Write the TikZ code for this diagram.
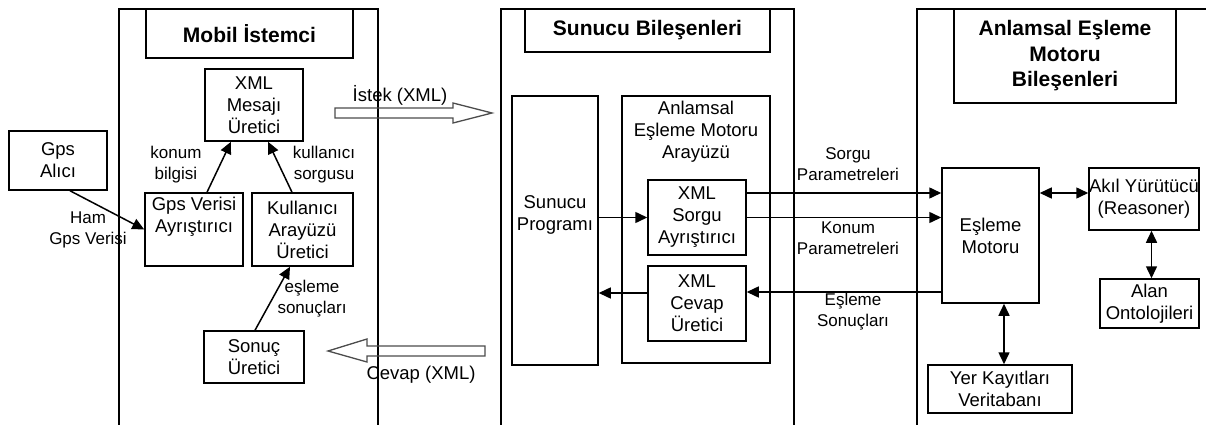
\documentclass[tikz,border=0pt]{standalone}
\usepackage{fontspec}
\setmainfont{Liberation Sans}
\usetikzlibrary{arrows.meta,calc}
\begin{document}
\begin{tikzpicture}[x=1pt,y=-1pt,
  line width=1.5pt,
  box/.style={draw, rectangle, inner sep=0pt, align=center, font=\fontsize{18.5}{22}\selectfont},
  ttl/.style={draw, rectangle, inner sep=0pt, align=center, font=\bfseries\fontsize{21}{25.5}\selectfont},
  lbl/.style={inner sep=0pt, align=center, font=\fontsize{17}{21}\selectfont},
  txt/.style={inner sep=0pt, align=center, font=\fontsize{18.5}{22}\selectfont},
  arr/.style={-{Triangle[length=12pt,width=11pt]}},
  darr/.style={{Triangle[length=12pt,width=11pt]}-{Triangle[length=12pt,width=11pt]}},
  panel/.style={draw, line width=1.5pt},
  hollow/.style={draw=black!70, line width=1.3pt, line join=miter}
]
\useasboundingbox (0,0) rectangle (1206,425);

% panels
\draw[panel] (119,425) -- (119,9) -- (378,9) -- (378,425);
\draw[panel] (501,425) -- (501,9) -- (794,9) -- (794,425);
\draw[panel] (917,425) -- (917,9) -- (1206,9);

% Mobil Istemci
\node[ttl, minimum width=207pt, minimum height=49pt] (titleM) at (249.5,33.5) {Mobil İstemci};
\node[box, minimum width=98pt, minimum height=72pt] (xmlmsg) at (254,105) {XML\\Mesajı\\Üretici};
\node[box, minimum width=98pt, minimum height=59pt] (gpsal) at (58,160.5) {Gps\\Alıcı};
\node[box, minimum width=98pt, minimum height=73pt] (gpsv) at (194,229.5) {};
\node[txt, anchor=north] (gpsvt) at ($(gpsv.north)+(0,4)$) {Gps Verisi\\Ayrıştırıcı};
\node[box, minimum width=101pt, minimum height=73pt] (kul) at (302.5,229.5) {Kullanıcı\\Arayüzü\\Üretici};
\node[box, minimum width=100pt, minimum height=52pt] (sonuc) at (254,357) {Sonuç\\Üretici};

\draw[arr] ([xshift=12pt]gpsal.south) -- (gpsv.west);
\draw[arr] ([xshift=13pt]gpsv.north) -- ([xshift=-23pt]xmlmsg.south);
\draw[arr] ([xshift=-10.5pt]kul.north) -- ([xshift=14pt]xmlmsg.south);
\draw[arr] ([xshift=1pt]sonuc.north) -- ([xshift=-12.5pt]kul.south);

\node[lbl] (lkonum) at (176,164.5) {konum\\bilgisi};
\node[lbl] (lkul) at (324,164.5) {kullanıcı\\sorgusu};
\node[lbl] (lham) at (88,229.5) {Ham\\Gps Verisi};
\node[lbl] (lesl) at (312,299) {eşleme\\sonuçları};

% hollow arrows
\draw[hollow] (335,108) -- (453,108) -- (453,103) -- (492,113) -- (453,123) -- (453,118) -- (335,118) -- cycle;
\node[txt] (listek) at (400,95) {İstek (XML)};
\draw[hollow] (485,346) -- (367,346) -- (367,339) -- (328,351) -- (367,362) -- (367,356) -- (485,356) -- cycle;
\node[txt] (lcevap) at (421,375) {Cevap (XML)};

% Sunucu
\node[ttl, minimum width=245pt, minimum height=43pt] (titleS) at (647.5,30.5) {Sunucu Bileşenleri};
\node[box, minimum width=86pt, minimum height=269pt] (sprog) at (555,230.5) {};
\node[txt] (sprogt) at (555,215) {Sunucu\\Programı};
\node[box, minimum width=148pt, minimum height=267pt] (anl) at (696,229.5) {};
\node[txt, anchor=north] (anlt) at (696,100) {Anlamsal\\Eşleme Motoru\\Arayüzü};
\node[box, minimum width=98pt, minimum height=75pt] (xsorgu) at (697,217.5) {XML\\Sorgu\\Ayrıştırıcı};
\node[box, minimum width=98pt, minimum height=75pt] (xcevap) at (697,303.5) {XML\\Cevap\\Üretici};

\coordinate (cv) at ([yshift=10.5pt]xcevap.west);
\draw[arr] (sprog.east |- xsorgu.west) -- (xsorgu.west);
\draw[arr] (cv) -- (sprog.east |- cv);

% Anlamsal
\node[ttl, minimum width=222pt, minimum height=94pt] (titleA) at (1065,56) {Anlamsal Eşleme\\Motoru\\Bileşenleri};
\node[box, minimum width=97pt, minimum height=135pt] (esl) at (990.5,235.5) {Eşleme\\Motoru};
\node[box, minimum width=110pt, minimum height=62pt] (akil) at (1144,199) {Akıl Yürütücü\\(Reasoner)};
\node[box, minimum width=99pt, minimum height=49pt] (alan) at (1149.5,303.5) {Alan\\Ontolojileri};
\node[box, minimum width=144pt, minimum height=48pt] (yer) at (1000,389) {Yer Kayıtları\\Veritabanı};

\coordinate (sq) at ([yshift=24.5pt]xsorgu.east);
\coordinate (ce) at ([yshift=11.5pt]xcevap.east);
\coordinate (ak) at ([yshift=6pt]akil.west);
\coordinate (an) at ([xshift=2pt]alan.north);
\coordinate (es) at ([xshift=13.5pt]esl.south);

\draw[arr] (sq) -- (esl.west |- sq);
\draw[arr] (xsorgu.east) -- (esl.west |- xsorgu.east);
\draw[arr] (esl.west |- ce) -- (ce);
\draw[darr] (esl.east |- ak) -- (ak);
\draw[darr] (akil.south -| an) -- (an);
\draw[darr] (es) -- (yer.north -| es);

\node[lbl] (lsorgu) at (848,164) {Sorgu\\Parametreleri};
\node[lbl] (lkonp) at (848,238) {Konum\\Parametreleri};
\node[lbl] (lesls) at (853,312) {Eşleme\\Sonuçları};
\end{tikzpicture}
\end{document}
